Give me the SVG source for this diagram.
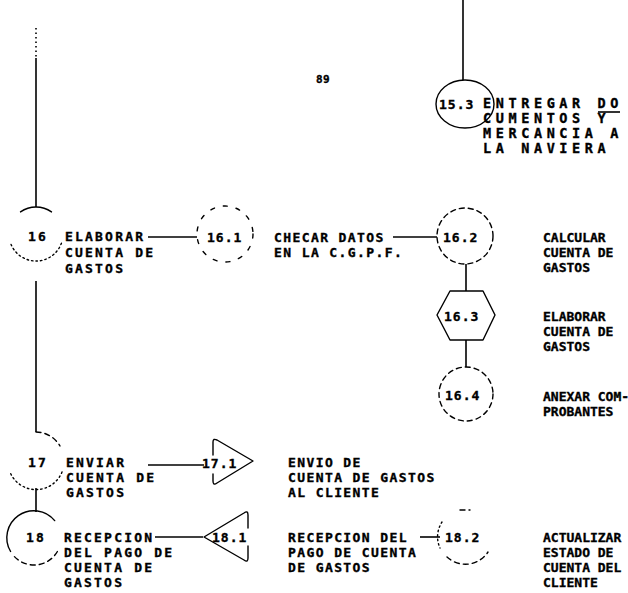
<svg xmlns="http://www.w3.org/2000/svg" width="628" height="593" viewBox="0 0 628 593">
<style>
  text { font-family: "DejaVu Sans Mono", "Liberation Mono", monospace; font-weight: bold; font-size: 13px; fill: #000; stroke: #000; stroke-width: 0.35px; }
  .l { letter-spacing: 2.2px; }
  .m { letter-spacing: 1.4px; }
  .r { letter-spacing: 0px; }
  .n { letter-spacing: 1px; }
  .big { font-size: 13.5px; letter-spacing: 4.6px; }
  .pg { font-size: 11px; letter-spacing: 0.5px; }
  .ln { stroke: #000; stroke-width: 1.6; fill: none; }
  .sh { stroke: #000; stroke-width: 1.4; fill: none; stroke-linejoin: round; stroke-linecap: round; }
  .dash { stroke-dasharray: 5 4; }
  .dot { stroke-dasharray: 1.5 3; }
  .sparse { stroke-dasharray: 4 9; }
</style>
<rect width="628" height="593" fill="#fff"/>

<g id="connectors">
  <path class="ln dot" d="M36,28 L36,58"/>
  <path class="ln" d="M36,58 L36,207"/>
  <path class="ln" d="M36,281 L36,432"/>
  <path class="ln" d="M36,488 L36,512"/>
  <path class="ln" d="M463,0 L463,80"/>
  <path class="ln" d="M148,237 L197,237"/>
  <path class="ln" d="M393,237 L437,237"/>
  <path class="ln" d="M466,264 L466,291"/>
  <path class="ln" d="M466,340 L466,367"/>
  <path class="ln" d="M148,465 L204,465"/>
  <path class="ln" d="M155,537 L203,537"/>
  <path class="ln" d="M420,537 L440,537"/>
</g>

<text class="pg" x="316" y="83">89</text>

<g id="n15-3">
  <ellipse class="sh" cx="465" cy="104" rx="29" ry="24"/>
  <text class="n" x="439" y="109">15.3</text>
  <text class="big" x="483" y="108">ENTREGAR DO</text>
  <path class="ln" d="M598,112 L620,112" stroke-width="1.2"/>
  <text class="big" x="483" y="123">CUMENTOS Y</text>
  <text class="big" x="483" y="138">MERCANCIA A</text>
  <text class="big" x="483" y="153">LA NAVIERA</text>
</g>

<g id="n16">
  <path class="sh" d="M20.5,211.9 A27,27 0 0 1 51.5,211.9"/>
  <path class="sh dot" d="M61.4,243.2 A27,27 0 0 1 10.6,243.2"/>
  <text class="l" x="28" y="241">16</text>
  <text class="l" x="65" y="241">ELABORAR</text>
  <text class="l" x="65" y="257">CUENTA DE</text>
  <text class="l" x="65" y="273">GASTOS</text>
</g>

<g id="n16-1">
  <circle class="sh sparse" cx="225" cy="234" r="28"/>
  <text class="n" x="207" y="242">16.1</text>
  <text class="m" x="274" y="242">CHECAR DATOS</text>
  <text class="m" x="274" y="257">EN LA C.G.P.F.</text>
</g>

<g id="n16-2">
  <circle class="sh dash" cx="465" cy="236" r="28"/>
  <text class="n" x="443" y="242">16.2</text>
  <text class="r" x="543" y="242">CALCULAR</text>
  <text class="r" x="543" y="257">CUENTA DE</text>
  <text class="r" x="543" y="272">GASTOS</text>
</g>

<g id="n16-3">
  <path class="sh" d="M450,291 L483,291 L495,315 L483,340 L450,340 L437,315 Z"/>
  <text class="n" x="444" y="321">16.3</text>
  <text class="r" x="543" y="321">ELABORAR</text>
  <text class="r" x="543" y="336">CUENTA DE</text>
  <text class="r" x="543" y="351">GASTOS</text>
</g>

<g id="n16-4">
  <circle class="sh dash" cx="466" cy="394" r="27"/>
  <text class="n" x="445" y="400">16.4</text>
  <text class="r" x="543" y="401">ANEXAR COM-</text>
  <text class="r" x="543" y="416">PROBANTES</text>
</g>

<g id="n17">
  <path class="sh dash" d="M36,432 A28,28 0 0 1 60,446"/>
  <path class="sh dot" d="M62,472 A28,28 0 0 1 10,472"/>
  <text class="l" x="28" y="467">17</text>
  <text class="l" x="66" y="467">ENVIAR</text>
  <text class="l" x="66" y="482">CUENTA DE</text>
  <text class="l" x="66" y="497">GASTOS</text>
</g>

<g id="n17-1">
  <path class="sh" d="M213,455 L213,442 Q213,438 217,440 L253,461 L217,483 Q213,486 213,481 L213,474"/>
  <text class="n" x="202" y="468">17.1</text>
  <text class="m" x="288" y="467">ENVIO DE</text>
  <text class="m" x="288" y="482">CUENTA DE GASTOS</text>
  <text class="m" x="288" y="497">AL CLIENTE</text>
</g>

<g id="n18">
  <path class="sh" d="M10.6,551.5 A27,27 0 0 1 54.7,520.6"/>
  <path class="sh dash" d="M57.4,551.5 A27,27 0 0 1 13,555"/>
  <text class="l" x="26" y="542">18</text>
  <text class="l" x="64" y="542">RECEPCION</text>
  <text class="l" x="64" y="557">DEL PAGO DE</text>
  <text class="l" x="64" y="572">CUENTA DE</text>
  <text class="l" x="64" y="587">GASTOS</text>
</g>

<g id="n18-1">
  <path class="sh" d="M248,528 L248,515 Q248,510 244,513 L204,537 L244,560 Q248,563 248,558 L248,546"/>
  <text class="n" x="212" y="542">18.1</text>
  <text class="m" x="288" y="542">RECEPCION DEL</text>
  <text class="m" x="288" y="557">PAGO DE CUENTA</text>
  <text class="m" x="288" y="572">DE GASTOS</text>
</g>

<g id="n18-2">
  <path class="sh dash" d="M460,510 L470,510"/>
  <path class="sh dot" d="M442,522 A27,27 0 0 0 440,548"/>
  <path class="sh dash" d="M447,557 A27,27 0 0 0 488,552"/>
  <text class="n" x="445" y="542">18.2</text>
  <text class="r" x="543" y="542">ACTUALIZAR</text>
  <text class="r" x="543" y="557">ESTADO DE</text>
  <text class="r" x="543" y="572">CUENTA DEL</text>
  <text class="r" x="543" y="587">CLIENTE</text>
</g>
</svg>
